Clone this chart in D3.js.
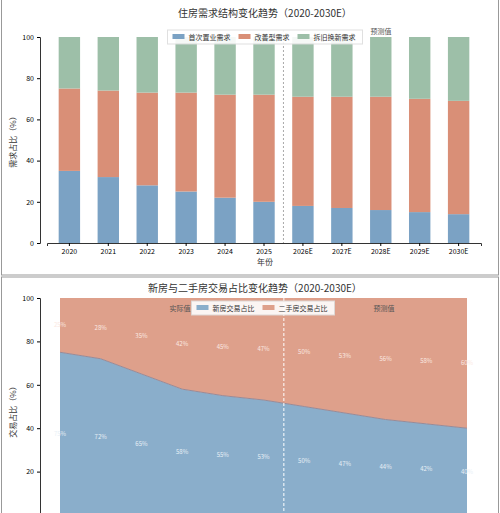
<!DOCTYPE html><html><head><meta charset="utf-8"><script src="https://cdn.jsdelivr.net/npm/d3@7"></script>
<style>body{margin:0;background:#fff}text{font-family:"Noto Sans CJK SC",sans-serif}</style></head><body>
<svg id="c" width="500" height="513"></svg>
<script>
const years=["2020","2021","2022","2023","2024","2025","2026E","2027E","2028E","2029E","2030E"];
const firstBuy=[35,32,28,25,22,20,18,17,16,15,14];
const upgrade=[40,42,45,48,50,52,53,54,55,55,55];
const renew=[25,26,27,27,28,28,29,29,29,30,31];
const newShare=[75,72,65,58,55,53,50,47,44,42,40];
const secondShare=[25,28,35,42,45,47,50,53,56,58,60];
const yTicks=[0,20,40,60,80,100];
const yTicks2=[20,40,60,80,100];
const svg=d3.select("#c");
const C1="#7ba2c4",C2="#d98f77",C3="#9dbfa8";
svg.append("rect").attr("x",1.5).attr("y",-2).attr("width",497).attr("height",277).attr("fill","none").attr("stroke","#999");
svg.append("rect").attr("x",1.5).attr("y",277).attr("width",497).attr("height",240).attr("fill","none").attr("stroke","#999");
const x=d3.scaleBand().domain(years).range([47,481]).paddingInner(0.45).paddingOuter(0.3);
const y=d3.scaleLinear().domain([0,100]).range([243,37]);
svg.append("text").attr("x",265).attr("y",17).attr("text-anchor","middle").attr("font-size",10).attr("fill","#333").text("住房需求结构变化趋势（2020-2030E）");
const stack=d3.stack().keys([0,1,2]).value((d,k)=>d[k])(years.map((_,i)=>[firstBuy[i],upgrade[i],renew[i]]));
const cols=[C1,C2,C3];
stack.forEach((s,k)=>svg.append("g").selectAll("rect").data(s).join("rect").attr("x",(d,i)=>x(years[i])).attr("width",x.bandwidth()).attr("y",d=>y(d[1])).attr("height",d=>y(d[0])-y(d[1])).attr("fill",cols[k]));
svg.append("g").attr("transform","translate(40,0)").call(d3.axisLeft(y).tickValues(yTicks).tickSize(3)).call(g=>g.selectAll("text").attr("font-size",7));
svg.append("g").attr("transform","translate(0,243)").call(d3.axisBottom(x).tickSize(3)).call(g=>g.selectAll("text").attr("font-size",7));
svg.selectAll(".domain").attr("stroke","#333");
const dx=(x("2025")+x("2026E")+x.bandwidth())/2;
svg.append("line").attr("x1",dx).attr("x2",dx).attr("y1",30).attr("y2",243).attr("stroke","#aaa").attr("stroke-dasharray","2,2");
svg.append("text").attr("x",381).attr("y",34).attr("font-size",7).attr("fill","#555").attr("text-anchor","middle").text("预测值");
svg.append("text").attr("x",265).attr("y",265).attr("font-size",8).attr("text-anchor","middle").attr("fill","#333").text("年份");
svg.append("text").attr("transform","translate(16,140) rotate(-90)").attr("font-size",8).attr("text-anchor","middle").attr("fill","#333").text("需求占比（%）");
function legend(x0,yy,items){const g=svg.append("g");const lens=items.map(d=>d[0].length*7+24);const tot=d3.sum(lens)+4;
g.append("rect").attr("x",x0-tot/2).attr("y",yy-7).attr("width",tot).attr("height",14).attr("fill","#fff").attr("opacity",0.9).attr("stroke","#ddd");
let cx=x0-tot/2+5;items.forEach((d,i)=>{g.append("rect").attr("x",cx).attr("y",yy-3).attr("width",12).attr("height",5).attr("fill",d[1]);g.append("text").attr("x",cx+16).attr("y",yy+2.5).attr("font-size",7).attr("fill","#333").text(d[0]);cx+=lens[i];});}
legend(265,37,[["首次置业需求",C1],["改善型需求",C2],["拆旧换新需求",C3]]);
const B1="#8aaecb",B2="#dea08b";
const x2=d3.scalePoint().domain(years).range([60,467]);
const y2=d3.scaleLinear().domain([0,100]).range([515,298]);
svg.append("text").attr("x",255).attr("y",292).attr("text-anchor","middle").attr("font-size",10).attr("fill","#333").text("新房与二手房交易占比变化趋势（2020-2030E）");
const a1=d3.area().x((d,i)=>x2(years[i])).y0(y2(0)).y1(d=>y2(d));
const a2=d3.area().x((d,i)=>x2(years[i])).y0((d,i)=>y2(newShare[i])).y1(y2(100));
svg.append("path").attr("d",a2(secondShare)).attr("fill",B2);
svg.append("path").attr("d",a1(newShare)).attr("fill",B1);
svg.append("path").attr("d",d3.line().x((d,i)=>x2(years[i])).y(d=>y2(d))(newShare)).attr("fill","none").attr("stroke","#9a8a96").attr("stroke-width",1);
svg.append("g").attr("transform","translate(40,0)").call(d3.axisLeft(y2).tickValues(yTicks2).tickSize(3)).call(g=>g.selectAll("text").attr("font-size",7)).select(".domain").attr("stroke","#333");
const dx2=(x2("2025")+x2("2026E"))/2;
svg.append("line").attr("x1",dx2).attr("x2",dx2).attr("y1",298).attr("y2",513).attr("stroke","#fff").attr("stroke-dasharray","3,2");
years.forEach((yr,i)=>{
svg.append("text").attr("x",x2(yr)).attr("y",y2((100+newShare[i])/2)+2).attr("font-size",6).attr("fill","#fbe9e2").attr("text-anchor","middle").text(secondShare[i]+"%");
svg.append("text").attr("x",x2(yr)).attr("y",y2(newShare[i]/2)+2).attr("font-size",6).attr("fill","#e8f0f6").attr("text-anchor","middle").text(newShare[i]+"%");});
svg.append("text").attr("x",180).attr("y",311).attr("font-size",7).attr("fill","#555").attr("text-anchor","middle").text("实际值");
svg.append("text").attr("x",384).attr("y",311).attr("font-size",7).attr("fill","#555").attr("text-anchor","middle").text("预测值");
legend(263,308,[["新房交易占比",B1],["二手房交易占比",B2]]);
svg.append("text").attr("transform","translate(16,410) rotate(-90)").attr("font-size",8).attr("text-anchor","middle").attr("fill","#333").text("交易占比（%）");
</script></body></html>
